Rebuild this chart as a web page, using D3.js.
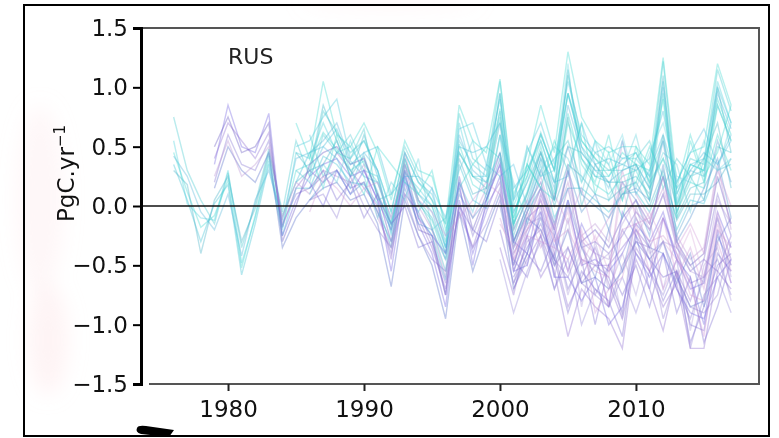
<!DOCTYPE html>
<html>
<head>
<meta charset="utf-8">
<script src="https://cdn.jsdelivr.net/npm/d3@7"></script>
<style>
  html, body { margin: 0; padding: 0; background: #ffffff; }
  svg { display: block; font-family: "DejaVu Sans", sans-serif; }
</style>
</head>
<body>
<svg id="chart" width="779" height="438"></svg>
<script>
// Annual land carbon flux anomalies for the RUS region, one line per model run (PgC/yr).
const regionName = "RUS";
const yLabelMain = "PgC.yr";
const yLabelSup = "\u22121";
const xTicks = [1980, 1990, 2000, 2010];
const yTicks = [-1.5, -1.0, -0.5, 0.0, 0.5, 1.0, 1.5];

// Runs starting in 1976
const cyanFrom1976 = [
  [0.45, 0.12, -0.18, -0.08, 0.22, -0.52, -0.08, 0.42, -0.18, 0.30,
   0.35, 0.62, 0.48, 0.30, 0.38, 0.12, -0.22, 0.35, 0.02, -0.12,
   -0.45, 0.52, 0.18, 0.10, 0.82, -0.15, 0.12, 0.50, 0.05, 0.78,
   0.35, 0.18, 0.10, 0.25, 0.30, 0.05, 0.95, -0.05, 0.20, 0.15,
   0.85, 0.55],
  [0.75, 0.30, 0.05, -0.15, 0.28, -0.35, 0.02, 0.48, -0.05, 0.55,
   0.25, 0.80, 0.62, 0.45, 0.55, 0.30, -0.05, 0.45, 0.20, 0.05,
   -0.30, 0.78, 0.40, 0.30, 1.05, 0.05, 0.25, 0.62, 0.30, 1.10,
   0.55, 0.40, 0.30, 0.35, 0.45, 0.20, 1.22, 0.10, 0.40, 0.35,
   1.15, 0.80],
  [0.35, 0.05, -0.30, 0.02, 0.18, -0.58, -0.15, 0.35, -0.25, 0.15,
   0.15, 0.42, 0.35, 0.20, 0.18, 0.02, -0.35, 0.22, -0.08, -0.25,
   -0.62, 0.35, 0.05, -0.02, 0.60, -0.30, -0.05, 0.35, -0.10, 0.15,
   0.15, 0.05, -0.05, 0.10, 0.12, -0.05, 0.25, -0.20, 0.05, 0.02,
   0.30, 0.35],
  [0.42, 0.25, -0.05, -0.20, 0.10, -0.42, 0.05, 0.30, -0.12, 0.40,
   0.45, 0.55, 0.70, 0.38, 0.25, 0.20, -0.10, 0.30, 0.10, -0.05,
   -0.40, 0.60, 0.30, 0.20, 0.45, -0.05, 0.20, 0.45, 0.15, 0.85,
   0.45, 0.30, 0.20, 0.30, 0.35, 0.15, 1.00, 0.02, 0.30, 0.25,
   0.95, 0.65],
  [0.30, 0.18, -0.40, 0.05, 0.25, -0.30, -0.02, 0.45, -0.08, 0.20,
   0.30, 0.35, 0.55, 0.25, 0.42, 0.08, -0.15, 0.40, 0.05, -0.18,
   -0.55, 0.40, 0.10, 0.15, 0.70, -0.20, 0.05, 0.40, 0.00, 0.35,
   0.25, 0.10, 0.05, 0.15, 0.20, 0.00, 0.30, -0.12, 0.10, 0.10,
   0.20, 0.40],
  [0.55, 0.02, -0.10, -0.12, 0.30, -0.48, -0.10, 0.38, -0.20, 0.45,
   0.40, 0.70, 0.45, 0.50, 0.30, 0.25, -0.15, 0.28, 0.15, 0.00,
   -0.35, 0.70, 0.25, 0.25, 0.95, 0.00, 0.30, 0.55, 0.20, 0.95,
   0.50, 0.25, 0.25, 0.40, 0.40, 0.25, 0.55, 0.05, 0.35, 0.30,
   1.05, 0.70]
];

// Runs starting in 1979
const purpleFrom1979 = [
  [0.35, 0.85, 0.50, 0.45, 0.78, -0.25, 0.05, 0.25, 0.35, 0.40,
   0.25, 0.30, 0.05, -0.55, 0.20, -0.15, -0.40, -0.85, 0.05, -0.40,
   -0.05, 0.25, -0.55, -0.25, 0.05, -0.35, 0.05, -0.50, -0.45, -0.55,
   -0.40, -0.15, -0.30, -0.05, -0.45, -0.70, -0.65, -0.05, -0.35],
  [0.20, 0.60, 0.35, 0.30, 0.55, -0.15, 0.10, 0.15, 0.25, 0.30,
   0.15, 0.20, -0.05, -0.40, 0.10, -0.05, -0.30, -0.65, 0.15, -0.25,
   0.05, 0.35, -0.40, -0.15, 0.15, -0.25, 0.15, -0.35, -0.30, -0.40,
   -0.25, -0.05, -0.20, 0.10, -0.35, -0.55, -0.45, 0.10, -0.25],
  [0.50, 0.75, 0.45, 0.50, 0.70, -0.30, 0.00, 0.35, 0.45, 0.50,
   0.35, 0.40, 0.10, -0.30, 0.30, -0.20, -0.25, -0.75, 0.25, -0.20,
   0.10, 0.45, -0.30, 0.00, 0.20, -0.20, 0.30, -0.30, -0.20, -0.35,
   -0.10, 0.05, -0.15, 0.25, -0.30, -0.50, -0.40, 0.25, -0.15],
  [0.15, 0.50, 0.30, 0.20, 0.45, -0.35, -0.10, 0.05, 0.15, 0.20,
   0.05, 0.10, -0.15, -0.68, 0.05, -0.25, -0.50, -0.95, -0.05, -0.55,
   -0.20, 0.10, -0.70, -0.40, -0.10, -0.50, -0.20, -0.65, -0.60, -0.70,
   -0.55, -0.30, -0.45, -0.30, -0.60, -0.85, -0.80, -0.25, -0.50],
  [0.40, 0.70, 0.55, 0.40, 0.62, -0.18, 0.15, 0.30, 0.20, 0.45,
   0.30, 0.15, 0.00, -0.45, 0.35, -0.10, -0.35, -0.70, 0.00, -0.35,
   0.00, 0.20, -0.50, -0.10, 0.00, -0.40, 0.00, -0.45, -0.50, -0.50,
   -0.35, -0.20, -0.35, -0.10, -0.40, -0.65, -0.60, -0.10, -0.45],
  [0.25, 0.55, 0.25, 0.35, 0.50, -0.10, 0.20, 0.10, 0.30, 0.25,
   0.20, 0.35, -0.10, -0.35, 0.45, 0.00, -0.20, -0.60, 0.20, -0.10,
   0.15, 0.30, -0.35, -0.05, 0.25, -0.15, 0.20, -0.25, -0.15, -0.30,
   0.55, 0.10, -0.10, 0.15, -0.25, -0.45, -0.35, 0.35, -0.20]
];

// Runs starting in 1985
const cyanFrom1985 = [
  [0.70, 0.40, 1.05, 0.60, 0.50, 0.70, 0.45, 0.05, 0.55, 0.30,
   0.25, -0.15, 0.85, 0.55, 0.45, 1.07, 0.10, 0.35, 0.85, 0.45,
   1.30, 0.75, 0.55, 0.45, 0.50, 0.50, 0.35, 1.25, 0.20, 0.45,
   0.50, 1.20, 0.85],
  [0.50, 0.55, 0.75, 0.90, 0.40, 0.55, 0.30, -0.05, 0.45, 0.20,
   0.10, -0.25, 0.65, 0.70, 0.35, 0.90, 0.05, 0.45, 0.70, 0.35,
   1.05, 0.60, 0.45, 0.50, 0.40, 0.45, 0.25, 1.05, 0.10, 0.35,
   0.40, 1.00, 0.70],
  [0.30, 0.20, 0.60, 0.45, 0.60, 0.35, 0.20, -0.15, 0.35, 0.10,
   0.00, -0.35, 0.55, 0.35, 0.25, 0.80, -0.05, 0.20, 0.55, 0.20,
   0.50, 0.45, 0.30, 0.30, 0.30, 0.35, 0.15, 0.40, 0.00, 0.25,
   0.30, 0.85, 0.55],
  [0.20, 0.45, 0.50, 0.65, 0.35, 0.45, 0.50, 0.10, 0.25, 0.25,
   0.15, -0.10, 0.50, 0.45, 0.50, 0.70, 0.15, 0.30, 0.60, 0.30,
   0.95, 0.50, 0.35, 0.40, 0.35, 0.30, 0.40, 0.80, 0.15, 0.30,
   0.45, 0.35, 0.60],
  [0.45, 0.30, 0.85, 0.55, 0.25, 0.60, 0.25, -0.20, 0.40, 0.05,
   -0.10, -0.40, 0.45, 0.25, 0.15, 0.95, -0.15, 0.10, 0.45, 0.10,
   1.15, 0.40, 0.25, 0.20, 0.20, 0.25, 0.10, 1.10, -0.10, 0.15,
   0.20, 1.00, 0.45]
];

// Runs starting in 1986
const cyanFrom1986 = [
  [0.10, 0.35, 0.20, 0.55, 0.25, -0.10, 0.20, 0.05, 0.40, -0.20,
   -0.10, 0.30, 0.55, 0.05, 0.60, 0.20, -0.15, 0.30, 0.50, 0.40,
   0.10, 0.55, 0.05, 0.30, 0.60, 0.15, 0.45, 0.35, -0.05, 0.40,
   0.30, 0.70],
  [0.45, 0.15, 0.60, 0.30, 0.10, 0.50, 0.35, 0.20, 0.10, 0.30,
   -0.20, 0.15, 0.35, 0.50, 0.40, -0.10, 0.35, 0.15, 0.05, 0.70,
   0.40, 0.20, 0.60, 0.10, 0.20, 0.50, 0.25, -0.10, 0.55, 0.20,
   0.60, 0.30],
  [0.25, 0.50, 0.40, 0.15, 0.45, 0.30, -0.25, 0.25, -0.05, 0.15,
   -0.35, 0.20, -0.05, 0.35, 0.25, 0.35, 0.00, 0.40, 0.20, 0.25,
   0.70, 0.35, 0.15, 0.55, 0.10, 0.30, 0.60, 0.20, 0.45, 0.65,
   0.35, 0.55],
  [0.60, 0.25, 0.45, 0.40, 0.65, 0.05, 0.10, 0.50, 0.25, 0.05,
   -0.15, 0.45, 0.25, 0.20, 0.75, -0.20, 0.50, 0.25, 0.40, 0.55,
   0.20, 0.45, 0.35, 0.05, 0.40, 0.55, 0.15, 0.40, 0.25, 0.05,
   0.50, 0.45],
  [0.05, 0.20, 0.30, 0.10, 0.20, -0.05, -0.30, 0.15, -0.15, -0.20,
   -0.45, 0.10, -0.10, 0.05, 0.40, -0.35, -0.05, 0.15, -0.15, 0.30,
   -0.05, 0.10, -0.20, 0.20, 0.05, -0.25, 0.35, -0.30, -0.10, 0.15,
   0.40, -0.10]
];

const purpleFrom1986 = [
  [0.05, 0.10, -0.10, 0.25, 0.00, -0.20, -0.35, 0.10, -0.25, -0.45,
   -0.55, -0.05, -0.35, -0.15, 0.15, -0.55, -0.20, -0.05, -0.45, -0.60,
   -0.30, -0.75, -0.50, -0.20, -0.40, -0.55, -0.30, -0.70, -0.95, -0.60,
   -0.45, -0.75],
  [0.20, 0.00, 0.30, 0.10, 0.30, 0.05, -0.20, 0.25, -0.10, -0.25,
   -0.40, 0.20, -0.50, 0.05, 0.35, -0.30, -0.40, 0.10, -0.20, -0.55,
   -0.15, -0.40, -0.85, -0.05, -0.25, -0.70, -0.10, -0.45, -0.60, -1.00,
   -0.20, -0.65],
  [-0.05, 0.25, 0.15, 0.00, 0.15, 0.20, -0.10, 0.35, 0.05, -0.05,
   -0.25, -0.10, 0.05, 0.20, 0.10, -0.20, 0.05, -0.25, 0.10, -0.15,
   0.15, -0.30, -0.10, 0.20, -0.05, -0.15, 0.25, -0.35, -0.15, -0.40,
   0.30, 0.00],
  [0.15, 0.30, 0.05, 0.20, -0.10, 0.10, -0.15, 0.00, -0.35, -0.30,
   -0.75, 0.00, -0.20, -0.30, 0.05, -0.45, -0.60, -0.25, -0.70, -0.35,
   -0.65, -0.50, -0.60, -0.90, -0.20, -0.45, -0.80, -0.55, -1.15, -0.85,
   -0.50, -0.40]
];

// Runs starting in 2000
const mixedFrom2000 = [
  [-0.20, -0.65, -0.40, -0.55, -0.25, -0.70, -0.45, -1.00, -0.50, -0.75,
   -0.50, -0.85, -0.40, -0.90, -0.60, -1.15, -0.85, -0.45],
  [0.10, -0.30, -0.50, 0.00, -0.60, -0.10, -0.85, -0.30, -0.70, -0.40,
   -0.75, -0.30, -0.70, -0.25, -1.05, -0.50, -0.35, -0.80],
  [-0.10, -0.45, -0.05, -0.35, -0.15, -0.55, -0.25, -0.40, -0.85, -0.20,
   -0.15, -0.55, -0.10, -0.60, -0.35, -0.70, -0.15, -0.55],
  [0.45, -0.15, 0.35, 0.15, 0.55, 0.30, 0.70, 0.10, 0.45, 0.05,
   0.50, 0.20, 0.40, 0.15, 0.60, 0.25, 0.45, 0.85],
  [0.60, 0.05, 0.50, 0.25, 0.30, 1.20, 0.20, 0.55, 0.35, 0.60,
   0.15, 0.45, 0.70, 0.25, 0.20, 0.55, 0.30, 0.40],
  [-0.35, -0.75, -0.25, -0.60, -0.40, -0.85, -0.60, -0.35, -0.65, -0.95,
   -0.45, -0.70, -1.05, -0.55, -0.80, -0.45, -0.55, -0.25],
  [0.00, -0.50, -0.10, -0.20, -0.45, 0.05, -0.35, -0.60, -0.20, -0.55,
   -0.10, -0.35, -0.40, -0.65, -0.40, -0.85, -0.30, -0.10],
  [-0.15, -0.35, -0.20, 0.10, -0.30, -0.05, -0.50, -0.25, -0.55, 0.15,
   -0.25, -0.05, -0.30, -0.45, -0.20, -0.60, -0.05, -0.50],
  [-0.45, -0.90, -0.55, -0.30, -0.70, -0.45, -1.00, -0.70, -0.85, -0.60,
   -0.90, -0.55, -0.75, -0.45, -1.20, -0.75, -0.60, -0.90],
  [0.25, -0.25, 0.10, 0.45, 0.05, 0.75, 0.00, 0.35, 0.20, -0.10,
   0.35, 0.05, 0.60, -0.05, 0.25, 0.40, 0.70, 0.15]
];

// Runs starting in 2001
const mixedFrom2001 = [
  [-0.60, -0.35, -0.15, -0.45, -0.90, -0.55, -0.70, -0.80, -1.10, -0.25,
   -0.45, -0.60, -0.55, -1.00, -1.05, -0.40, -0.55],
  [-0.40, -0.20, 0.05, -0.30, -0.20, -0.45, -0.55, -0.60, 0.30, -0.10,
   -0.30, -0.25, -0.40, -0.75, -0.80, -0.20, -0.35],
  [-0.70, -0.45, -0.25, -0.55, -1.10, -0.70, -0.85, -0.95, -1.20, -0.35,
   -0.55, -0.85, -0.65, -1.20, -1.20, -0.55, -0.70],
  [-0.30, -0.10, 0.15, -0.20, 0.35, -0.30, -0.40, -0.45, -0.15, 0.05,
   -0.20, 0.10, -0.30, -0.55, -0.60, 0.05, -0.15],
  [-0.55, -0.50, -0.05, -0.60, -0.60, -0.80, -0.60, -1.00, -0.85, -0.40,
   -0.60, -0.40, -0.70, -0.90, -0.95, -0.60, -0.45],
  [-0.45, -0.25, -0.30, -0.35, -0.45, -0.20, -0.90, -0.70, -0.60, -0.15,
   -0.10, -0.70, -0.45, -0.65, -1.10, -0.30, -0.65],
  [-0.10, 0.25, 0.60, 0.30, 0.95, 0.55, 0.40, 0.25, 0.45, 0.35,
   0.30, 0.90, 0.00, 0.35, 0.30, 0.90, 0.60],
  [-0.30, 0.00, 0.30, 0.05, 0.50, 0.10, 0.00, -0.10, 0.10, 0.15,
   0.05, 0.55, -0.25, 0.00, 0.05, 0.55, 0.20],
  [-0.65, -0.30, -0.20, -0.50, -0.35, -0.65, -0.75, -0.85, -0.50, -0.30,
   -0.35, -0.95, -0.60, -0.85, -0.90, -0.75, -0.30],
  [-0.50, -0.15, -0.10, -0.25, -0.75, -0.35, -0.50, -0.40, -0.95, 0.00,
   -0.40, -0.30, -0.35, -0.50, -0.65, -0.10, -0.60]
];

// Line colours for each group
const cyanShades = ["#3ed8d0", "#40c8cc", "#38c0d4", "#4fb4d8", "#3fb0c4", "#48d0dc"];
const purpleShades = ["#6f5fe0", "#7f70d0", "#6050c0", "#5068c8", "#8a68d0", "#b890d4"];
const cyanMidShades = ["#3ed8d0", "#44c8dc", "#50c8d4", "#40bcd8", "#38b8c8"];
const cyanLateShades = ["#5cd0dc", "#3ed8d0", "#50c0e0", "#44c8cc", "#5090d0"];
const purpleMidShades = ["#8c7ad4", "#7060e0", "#d098d8", "#7866d0"];
const late2000Shades = ["#7866d0", "#a898dc", "#d098d8", "#3ed8d0", "#70d8e4",
                        "#8a68d0", "#6078d0", "#d8a8dc", "#9484d8", "#40b8c4"];
const late2001Shades = ["#7866d0", "#cc98d4", "#8a68d0", "#b098dc", "#7060e0",
                        "#d098d8", "#3ed8d0", "#509cd0", "#9480d4", "#a898dc"];

const groups = [
  { start: 1976, runs: cyanFrom1976, colors: cyanShades },
  { start: 1979, runs: purpleFrom1979, colors: purpleShades },
  { start: 1985, runs: cyanFrom1985, colors: cyanMidShades },
  { start: 1986, runs: cyanFrom1986, colors: cyanLateShades },
  { start: 1986, runs: purpleFrom1986, colors: purpleMidShades },
  { start: 2000, runs: mixedFrom2000, colors: late2000Shades },
  { start: 2001, runs: mixedFrom2001, colors: late2001Shades }
];

const svg = d3.select("#chart");

// Faint pink stains around the page
const defs = svg.append("defs");
defs.append("filter").attr("id", "soft")
  .attr("x", "-50%").attr("y", "-50%").attr("width", "200%").attr("height", "200%")
  .append("feGaussianBlur").attr("stdDeviation", 10);
const stains = svg.append("g").attr("filter", "url(#soft)").attr("fill", "#fbd9de");
stains.append("ellipse").attr("cx", 40).attr("cy", 200).attr("rx", 24).attr("ry", 95).attr("opacity", 0.22);
stains.append("ellipse").attr("cx", 48).attr("cy", 340).attr("rx", 20).attr("ry", 55).attr("opacity", 0.3);
stains.append("ellipse").attr("cx", 390).attr("cy", 2).attr("rx", 90).attr("ry", 5).attr("opacity", 0.3);

// Outer frame
svg.append("rect").attr("x", 24).attr("y", 5).attr("width", 745).attr("height", 431)
  .attr("fill", "none").attr("stroke", "#000").attr("stroke-width", 2);

const plot = { left: 141, right: 759, top: 28, bottom: 384 };
svg.append("rect").attr("x", plot.left).attr("y", plot.top)
  .attr("width", plot.right - plot.left).attr("height", plot.bottom - plot.top)
  .attr("fill", "#fff");

const x = d3.scaleLinear().domain([1973.6, 2019.05]).range([plot.left, plot.right]);
const y = d3.scaleLinear().domain([-1.5, 1.5]).range([plot.bottom, plot.top]);

const line = d3.line().x(d => x(d.year)).y(d => y(d.value));

const linesG = svg.append("g").attr("fill", "none")
  .attr("stroke-width", 1.4).attr("stroke-linejoin", "miter");
groups.forEach(g => {
  g.runs.forEach((run, i) => {
    const pts = run.map((v, k) => ({ year: g.start + k, value: v }));
    linesG.append("path").datum(pts)
      .attr("d", line)
      .attr("stroke", g.colors[i % g.colors.length])
      .attr("stroke-opacity", 0.36);
  });
});

// Zero reference line
svg.append("line")
  .attr("x1", plot.left).attr("x2", plot.right)
  .attr("y1", y(0)).attr("y2", y(0))
  .attr("stroke", "#111").attr("stroke-width", 1.4);

// Top, right and bottom spines
svg.append("path")
  .attr("d", `M${plot.left},${plot.top}H${plot.right}V${plot.bottom}H${plot.left + 8}`)
  .attr("fill", "none").attr("stroke", "#555").attr("stroke-width", 2);

// Axes
const yAxis = svg.append("g").attr("transform", `translate(${plot.left},0)`)
  .call(d3.axisLeft(y).tickValues(yTicks).tickFormat(d3.format(".1f"))
    .tickSize(8).tickPadding(5));
yAxis.select(".domain").attr("stroke", "#000").attr("stroke-width", 3);
yAxis.selectAll(".tick line").attr("stroke", "#000").attr("stroke-width", 2);
yAxis.selectAll(".tick text").attr("font-size", 23).attr("fill", "#111")
  .attr("font-family", "DejaVu Sans");

const xAxis = svg.append("g").attr("transform", `translate(0,${plot.bottom})`)
  .call(d3.axisBottom(x).tickValues(xTicks).tickFormat(d3.format("d"))
    .tickSize(7).tickPadding(10));
xAxis.select(".domain").remove();
xAxis.selectAll(".tick line").attr("stroke", "#222").attr("stroke-width", 2);
xAxis.selectAll(".tick text").attr("font-size", 23).attr("fill", "#111")
  .attr("font-family", "DejaVu Sans");

// Region name
svg.append("text").attr("x", 228).attr("y", 64)
  .attr("font-size", 22).attr("fill", "#222").text(regionName);

// Y axis title with superscript
const yTitle = svg.append("text")
  .attr("transform", "translate(74,222) rotate(-90)")
  .attr("font-size", 23).attr("fill", "#111");
yTitle.append("tspan").text(yLabelMain);
yTitle.append("tspan").attr("font-size", 15).attr("dy", -9).text(yLabelSup);

// Dark pen stroke near the lower left corner
svg.append("path")
  .attr("d", "M137,428 Q138,425 146,426 L174,430 L169,437 L141,434 Q135,432 137,428 Z")
  .attr("fill", "#000");
</script>
</body>
</html>
